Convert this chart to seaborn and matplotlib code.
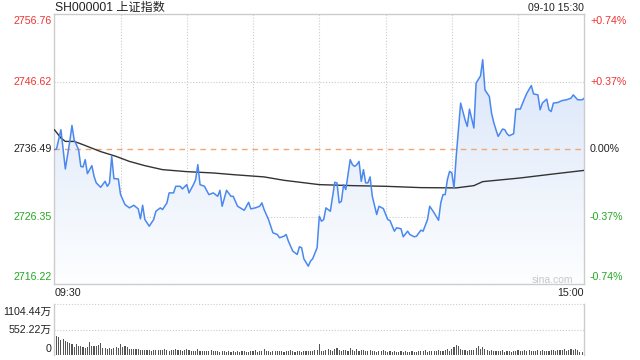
import numpy as np
import matplotlib
matplotlib.use("Agg")
import matplotlib.pyplot as plt
import seaborn as sns
from matplotlib.colors import LinearSegmentedColormap

# ---------------- data ----------------
title = "SH000001 上证指数"
stamp = "09-10 15:30"
prev_close = 2736.49
price_ticks = [2756.76, 2746.62, 2736.49, 2726.35, 2716.22]
pct_labels = ["+0.74%", "+0.37%", "0.00%", "-0.37%", "-0.74%"]
vol_ticks = [1104.44, 552.22, 0]
vol_labels = ["1104.44万", "552.22万", "0"]
time_labels = ["09:30", "15:00"]

price_minute = [0, 1, 3, 5, 7, 8, 9, 11, 12, 13, 14, 15, 17, 18, 19, 21, 23, 24, 25, 26,
                27, 29, 30, 32, 34, 36, 38, 39, 40, 41, 43, 45, 46, 48, 49, 51, 52, 54, 55, 57,
                58, 60, 61, 63, 64, 65, 66, 68, 70, 72, 74, 75, 76, 78, 80, 81, 83, 86, 88, 89,
                91, 93, 94, 95, 97, 99, 101, 102, 104, 105, 106, 108, 110, 111, 112, 113, 115, 116, 117, 119,
                120, 121, 122, 123, 125, 127, 128, 129, 130, 131, 132, 134, 135, 136, 137, 138, 139, 140, 141, 142,
                143, 144, 146, 147, 149, 151, 152, 154, 155, 157, 158, 160, 161, 163, 164, 166, 167, 169, 170, 172,
                174, 175, 176, 177, 178, 179, 180, 181, 182, 184, 186, 187, 188, 190, 191, 193, 194, 195, 197, 198,
                199, 200, 201, 203, 204, 205, 206, 208, 209, 211, 213, 214, 216, 217, 219, 220, 221, 223, 224, 225,
                226, 228, 230, 232, 234, 235, 237, 239, 240]
price_value = [2736.39, 2736.49, 2739.38, 2733.49, 2737.63, 2740.03, 2737.88, 2736.39, 2733.88, 2733.79,
               2734.89, 2732.79, 2733.99, 2732.39, 2731.40, 2730.74, 2731.64, 2730.89, 2731.40, 2735.38,
               2732.04, 2732.00, 2729.64, 2728.15, 2727.65, 2728.04, 2727.50, 2726.00, 2728.04, 2725.90,
               2724.90, 2725.90, 2727.14, 2727.65, 2727.40, 2728.40, 2729.90, 2729.90, 2730.89, 2730.89,
               2730.50, 2731.14, 2729.90, 2731.14, 2731.89, 2734.14, 2731.14, 2730.89, 2729.64, 2729.90,
               2729.39, 2730.29, 2727.89, 2730.29, 2729.39, 2729.39, 2727.89, 2727.29, 2728.49, 2727.50,
               2727.65, 2727.89, 2728.40, 2727.40, 2725.90, 2723.91, 2723.65, 2723.16, 2723.40, 2723.65,
               2722.65, 2721.15, 2720.66, 2721.81, 2721.66, 2720.01, 2718.90, 2719.65, 2720.01, 2721.66,
               2726.39, 2725.64, 2725.90, 2727.65, 2727.14, 2731.49, 2731.40, 2728.40, 2728.64, 2731.14,
               2730.39, 2734.89, 2734.14, 2733.88, 2734.14, 2734.63, 2731.64, 2733.39, 2731.40, 2731.40,
               2732.30, 2729.39, 2726.65, 2727.89, 2727.55, 2725.90, 2725.75, 2724.15, 2724.66, 2724.51,
               2723.31, 2724.15, 2723.65, 2723.31, 2723.40, 2724.30, 2724.15, 2725.90, 2727.89, 2726.90,
               2725.79, 2728.40, 2729.64, 2729.64, 2731.89, 2733.13, 2732.89, 2730.65, 2735.38, 2743.38,
               2740.88, 2739.88, 2742.48, 2739.64, 2746.38, 2747.47, 2749.90, 2745.37, 2744.37, 2741.88,
               2740.47, 2739.38, 2738.38, 2739.49, 2739.38, 2738.78, 2738.48, 2738.78, 2742.48, 2742.48,
               2744.13, 2744.88, 2746.02, 2744.77, 2744.62, 2742.38, 2743.38, 2743.98, 2742.38, 2742.12,
               2743.38, 2743.47, 2743.77, 2743.88, 2744.13, 2744.62, 2743.88, 2743.88, 2744.13]

avg_minute = [0, 3, 5, 9, 13, 21, 28, 34, 41, 49, 60, 72, 81, 95, 104, 120, 135, 150, 166, 182,
              190, 194, 211, 226, 240]
avg_value = [2739.40, 2738.14, 2737.63, 2737.63, 2737.14, 2736.10, 2735.38, 2734.63, 2733.99, 2733.39,
             2733.09, 2732.89, 2732.64, 2732.30, 2731.79, 2731.14, 2730.99, 2730.89, 2730.69, 2730.65,
             2730.99, 2731.59, 2732.14, 2732.74, 2733.28]

volume = [1104, 410, 395, 330, 350, 300, 280, 270, 240, 180,
          230, 200, 185, 170, 160, 175, 275, 200, 185, 190,
          215, 265, 145, 150, 130, 155, 135, 160, 175, 150,
          240, 180, 200, 175, 130, 120, 125, 140, 120, 115,
          110, 100, 115, 105, 95, 100, 110, 100, 105, 100,
          120, 105, 95, 100, 110, 140, 105, 100, 95, 110,
          125, 100, 95, 85, 90, 120, 85, 80, 90, 80,
          85, 110, 95, 80, 85, 75, 95, 80, 70, 85,
          75, 80, 70, 90, 75, 80, 85, 70, 75, 90,
          80, 100, 75, 85, 80, 120, 90, 85, 75, 80,
          95, 90, 80, 85, 75, 80, 95, 100, 85, 75,
          80, 90, 75, 95, 85, 80, 90, 95, 100, 110,
          240, 95, 80, 100, 120, 110, 90, 135, 145, 100,
          85, 110, 100, 95, 150, 105, 95, 120, 85, 110,
          100, 90, 85, 105, 80, 95, 75, 80, 90, 100,
          80, 75, 85, 70, 90, 75, 70, 80, 75, 85,
          70, 75, 80, 70, 75, 90, 80, 85, 100, 75,
          90, 85, 80, 95, 100, 85, 90, 110, 120, 95,
          130, 170, 220, 200, 140, 110, 105, 95, 100, 110,
          100, 150, 190, 130, 180, 120, 110, 95, 100, 85,
          90, 80, 85, 100, 75, 80, 90, 70, 85, 95,
          100, 85, 90, 100, 95, 105, 85, 90, 95, 100,
          90, 110, 95, 85, 90, 100, 105, 95, 110, 100,
          105, 120, 95, 110, 125, 100, 140, 115, 60, 70,
          310]
vol_minute = list(range(len(volume)))

# ---------------- style ----------------
sns.set_theme(style="white")
plt.rcParams["font.family"] = ["Liberation Sans", "Noto Sans CJK SC", "DejaVu Sans"]

RED = "#ee3333"
GREEN = "#22a822"
BLACK = "#222222"
FRAME = "#cccccc"
W, H = 640.0, 360.0


def fx(px):
    return px / W


def fy(py):
    return 1 - py / H


fig = plt.figure(figsize=(6.4, 3.6), dpi=100)
fig.patch.set_facecolor("white")

L, R = 54.3, 584.3
ax = fig.add_axes([fx(L), fy(284), (R - L) / W, 270 / H])
axv = fig.add_axes([fx(L), fy(355), (R - L) / W, 51 / H])

ymin, ymax = price_ticks[-1], price_ticks[0]

# gradient area under price line
poly = ax.fill_between(price_minute, price_value, ymin, facecolor="none", edgecolor="none")
grad = np.linspace(1, 0, 256).reshape(-1, 1)
cmap = LinearSegmentedColormap.from_list("g", ["#fdfeff", "#d3e1f8"])
im = ax.imshow(grad, extent=[0, 240, ymin, ymax], aspect="auto", cmap=cmap,
               origin="upper", zorder=1, interpolation="bilinear")
im.set_clip_path(poly.get_paths()[0], transform=ax.transData)

sns.lineplot(x=price_minute, y=price_value, ax=ax, color="#4a88ef", lw=1.1,
             estimator=None, zorder=4)
sns.lineplot(x=avg_minute, y=avg_value, ax=ax, color="#333333", lw=1.0,
             estimator=None, zorder=3)
ax.axhline(prev_close, color="#f2a673", lw=1.0, ls=(0, (4, 3.5)), zorder=2)

ax.set_xlim(0, 240)
ax.set_ylim(ymin, ymax)
ax.set_xticks(range(30, 240, 30))
ax.set_yticks([price_ticks[1], price_ticks[3]])
ax.tick_params(length=0, labelleft=False, labelbottom=False)
ax.grid(True, color=FRAME, ls=(0, (1, 1.6)), lw=0.8, zorder=0)
ax.set_axisbelow(True)
for s in ax.spines.values():
    s.set_color(FRAME)
    s.set_linewidth(1.0)
ax.set_xlabel("")
ax.set_ylabel("")

# volume
sns.barplot(x=vol_minute, y=volume, ax=axv, native_scale=True, color="#555555",
            width=0.5, errorbar=None, saturation=1, linewidth=0)
axv.set_xlim(0, 240)
axv.set_ylim(0, vol_ticks[0])
axv.set_xticks([])
axv.set_yticks([])
axv.set_xlabel("")
axv.set_ylabel("")
for y in vol_ticks[:2]:
    axv.axhline(y, color=FRAME, ls=(0, (1, 1.6)), lw=0.8, clip_on=False, zorder=0)
axv.spines["top"].set_visible(False)
axv.spines["bottom"].set_visible(False)
for s in ("left", "right"):
    axv.spines[s].set_color(FRAME)
    axv.spines[s].set_linewidth(1.0)

# texts
fs = 7.7
fig.text(fx(55), fy(7.5), title, fontsize=8.7, color=BLACK, ha="left", va="center")
fig.text(fx(584), fy(8), stamp, fontsize=7.6, color=BLACK, ha="right", va="center")

left_colors = [RED, RED, BLACK, GREEN, GREEN]
ys = [20.5, 82.3, 149.3, 217.0, 277.3]
for val, lab, c, y in zip(price_ticks, pct_labels, left_colors, ys):
    fig.text(fx(51.5), fy(y), f"{val:.2f}", fontsize=fs, color=c, ha="right", va="center")
    fig.text(fx(590), fy(y), lab, fontsize=fs, color=c, ha="left", va="center")

fig.text(fx(573), fy(280), "sina.com", fontsize=7.5, color="#c8c8c8", ha="right", va="center")
fig.text(fx(55), fy(293.5), time_labels[0], fontsize=fs, color=BLACK, ha="left", va="center")
fig.text(fx(584), fy(293.5), time_labels[1], fontsize=fs, color=BLACK, ha="right", va="center")

for lab, y in zip(vol_labels, [311.5, 329.5, 348.5]):
    fig.text(fx(51.5), fy(y), lab, fontsize=fs, color=BLACK, ha="right", va="center")

fig.savefig("out.png", dpi=100, facecolor="white")
